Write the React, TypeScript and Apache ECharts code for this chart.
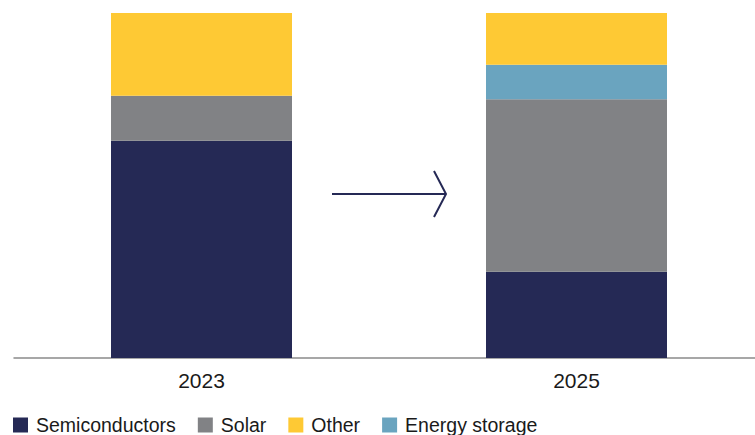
import React, { useEffect, useRef } from "react";
import * as echarts from "echarts";

const categories = ["2023", "2025"];
const seriesNames = ["Semiconductors", "Solar", "Energy storage", "Other"];
const semiconductors = [63, 25];
const solar = [13, 50];
const energyStorage = [0, 10];
const other = [24, 15];
const legendOrder = ["Semiconductors", "Solar", "Other", "Energy storage"];
const colors: Record<string, string> = {
  Semiconductors: "#252955",
  Solar: "#818285",
  "Energy storage": "#6AA4BF",
  Other: "#FEC934",
};

export default function App() {
  const ref = useRef<HTMLDivElement>(null);
  useEffect(() => {
    if (!ref.current) return;
    const chart = echarts.init(ref.current, undefined, { renderer: "svg" });
    const values = [semiconductors, solar, energyStorage, other];
    const font = "'Liberation Sans', Arial, sans-serif";
    chart.setOption({
      animation: false,
      textStyle: { fontFamily: font },
      grid: { left: 14, top: 13, width: 750, height: 345, containLabel: false },
      legend: {
        data: legendOrder,
        left: 8,
        top: 410,
        itemWidth: 15,
        itemHeight: 15,
        itemGap: 22,
        icon: "rect",
        textStyle: { fontSize: 19.5, color: "#1a1a1a", fontFamily: font, padding: [0, 0, 0, 3] },
      },
      xAxis: {
        type: "category",
        data: categories,
        axisLine: { lineStyle: { color: "#8a8a8a", width: 1.5 } },
        axisTick: { show: false },
        axisLabel: { fontSize: 21, color: "#1a1a1a", margin: 12, fontFamily: font },
      },
      yAxis: { type: "value", min: 0, max: 100, show: false, splitLine: { show: false } },
      series: seriesNames.map((name, i) => ({
        name,
        type: "bar",
        stack: "total",
        barWidth: 181,
        itemStyle: { color: colors[name] },
        data: values[i],
      })),
      graphic: [
        {
          type: "line",
          shape: { x1: 332, y1: 194, x2: 446, y2: 194 },
          style: { stroke: "#252955", lineWidth: 2 },
        },
        {
          type: "polyline",
          shape: { points: [[434, 171], [446, 194], [434, 217]] },
          style: { stroke: "#252955", lineWidth: 2, fill: "none" },
        },
      ],
    });
    return () => chart.dispose();
  }, []);
  return (
    <div style={{ position: "fixed", left: 0, top: 0, width: 755, height: 435, overflow: "hidden", background: "#fff" }}>
      <div ref={ref} style={{ width: 770, height: 435 }} />
    </div>
  );
}
